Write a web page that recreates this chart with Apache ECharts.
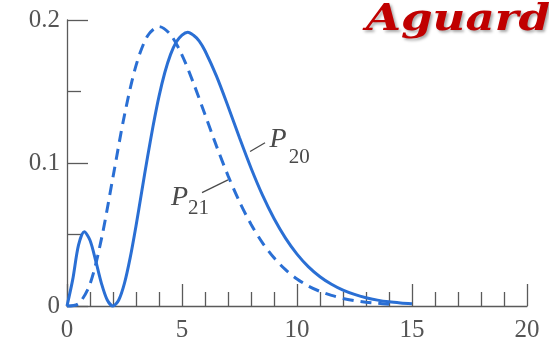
<!DOCTYPE html>
<html>
<head>
<meta charset="utf-8">
<script src="https://cdn.jsdelivr.net/npm/echarts@6/dist/echarts.min.js"></script>
<style>
  html, body { margin: 0; padding: 0; background: #ffffff; }
  #chart { width: 549px; height: 343px; }
</style>
</head>
<body>
<div id="chart"></div>
<script>
// Radial probability densities of the hydrogen n = 2 states (r in Bohr radii)
const radius20 = [0, 0.25, 0.5, 0.75, 1, 1.25, 1.5, 1.75, 2, 2.25, 2.5, 2.75, 3, 3.25, 3.5, 3.75, 4, 4.25, 4.5, 4.75, 5, 5.25, 5.5, 5.75, 6, 6.5, 7, 7.5, 8, 8.5, 9, 9.5, 10, 10.5, 11, 11.5, 12, 12.5, 13, 13.5, 14, 14.5, 15];
const prob20   = [0, 0.0186, 0.0426, 0.0519, 0.046, 0.0315, 0.0157, 0.0042, 0, 0.0042, 0.016, 0.034, 0.056, 0.0801, 0.104, 0.1265, 0.1466, 0.1631, 0.1758, 0.1846, 0.1895, 0.1915, 0.1893, 0.1853, 0.1785, 0.1607, 0.1397, 0.1176, 0.0965, 0.0775, 0.0612, 0.0475, 0.0363, 0.0274, 0.0205, 0.0152, 0.0111, 0.0081, 0.0058, 0.0041, 0.0029, 0.0021, 0.0015];

const radius21 = [0, 0.5, 1, 1.5, 2, 2.5, 3, 3.5, 4, 4.5, 5, 5.5, 6, 6.5, 7, 7.5, 8, 8.5, 9, 9.5, 10, 10.5, 11, 11.5, 12, 12.5, 13, 13.5, 14];
const prob21   = [0, 0.0016, 0.0153, 0.0471, 0.0902, 0.1336, 0.1681, 0.1888, 0.1954, 0.1898, 0.1755, 0.1558, 0.1339, 0.1118, 0.0912, 0.0729, 0.0572, 0.0442, 0.0337, 0.0254, 0.0189, 0.0139, 0.0102, 0.0074, 0.0053, 0.0038, 0.0027, 0.0019, 0.0013];

const xTickLabels = ['0', '5', '10', '15', '20'];
const yTickLabels = ['0', '0.1', '0.2'];

// Curve labels: symbol, subscript and leader line, placed in data coordinates
const curveNotes = [
  { main: 'P', sub: '20', mainAt: [8.8, 0.116], subAt: [9.64, 0.104], leader: [[7.96, 0.108], [8.61, 0.1142]] },
  { main: 'P', sub: '21', mainAt: [4.52, 0.076], subAt: [5.26, 0.068], leader: [[5.87, 0.0793], [7.0, 0.0882]] }
];

const toPairs = (xs, ys) => xs.map((x, i) => [x, ys[i]]);

const blue = '#2a6fd4';
const axisGrey = '#5a5a5a';
const labelFont = '"Liberation Serif", "Times New Roman", serif';

const chart = echarts.init(document.getElementById('chart'), null, { renderer: 'canvas' });

chart.setOption({
  animation: false,
  backgroundColor: '#ffffff',
  grid: { left: 67, right: 22, top: 20, bottom: 36.3 },
  xAxis: {
    type: 'value',
    min: 0, max: 20, interval: 5,
    axisLine: { show: true, lineStyle: { color: axisGrey, width: 1.3 } },
    axisTick: { show: true, inside: true, length: 22, lineStyle: { color: axisGrey, width: 1.3 } },
    minorTick: { show: true, splitNumber: 5, length: 14, lineStyle: { color: axisGrey, width: 1.3 } },
    splitLine: { show: false },
    axisLabel: {
      margin: 12,
      fontFamily: labelFont, fontSize: 25, color: '#555555',
      formatter: (v) => xTickLabels[Math.round(v / 5)]
    }
  },
  yAxis: {
    type: 'value',
    min: 0, max: 0.2, interval: 0.1,
    axisLine: { show: true, lineStyle: { color: axisGrey, width: 1.3 } },
    axisTick: { show: true, inside: true, length: 21, lineStyle: { color: axisGrey, width: 1.3 } },
    minorTick: { show: true, splitNumber: 2, length: 14, lineStyle: { color: axisGrey, width: 1.3 } },
    splitLine: { show: false },
    axisLabel: {
      margin: 7,
      fontFamily: labelFont, fontSize: 25, color: '#555555',
      formatter: (v) => yTickLabels[Math.round(v * 10)]
    }
  },
  series: [
    {
      name: 'P20', type: 'line', data: toPairs(radius20, prob20),
      smooth: 0.3, showSymbol: false, clip: false,
      lineStyle: { color: blue, width: 3 }
    },
    {
      name: 'P21', type: 'line', data: toPairs(radius21, prob21),
      smooth: 0.3, showSymbol: false, clip: false,
      lineStyle: { color: blue, width: 3, type: [11, 7] }
    }
  ]
});

function drawNotes() {
  const px = (p) => chart.convertToPixel({ gridIndex: 0 }, p);
  const elements = [];
  curveNotes.forEach((n) => {
    const a = px(n.leader[0]);
    const b = px(n.leader[1]);
    elements.push({
      type: 'line', silent: true,
      shape: { x1: a[0], y1: a[1], x2: b[0], y2: b[1] },
      style: { stroke: '#4a4a4a', lineWidth: 1.3 }
    });
    const m = px(n.mainAt);
    elements.push({
      type: 'text', silent: true, x: m[0], y: m[1],
      style: { text: n.main, font: 'italic 28px ' + labelFont, fill: '#4a4a4a',
               textAlign: 'left', textVerticalAlign: 'middle' }
    });
    const s = px(n.subAt);
    elements.push({
      type: 'text', silent: true, x: s[0], y: s[1],
      style: { text: n.sub, font: '21px ' + labelFont, fill: '#4a4a4a',
               textAlign: 'left', textVerticalAlign: 'middle' }
    });
  });
  // Red heading running off the top-right edge
  elements.push({
    type: 'text', silent: true, x: 366, y: 20, scaleX: 1.22,
    style: {
      text: 'Aguardo', font: 'italic bold 37px "DejaVu Serif", serif', fill: '#c00000',
      textAlign: 'left', textVerticalAlign: 'middle',
      textShadowColor: 'rgba(0,0,0,0.35)', textShadowBlur: 3,
      textShadowOffsetX: 2, textShadowOffsetY: 2
    }
  });
  chart.setOption({ graphic: elements });
}
drawNotes();
</script>
</body>
</html>
